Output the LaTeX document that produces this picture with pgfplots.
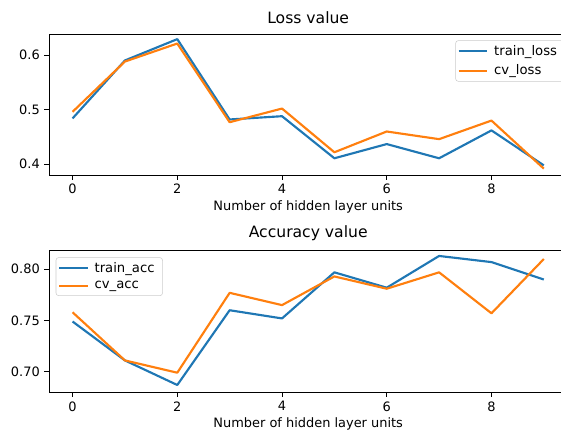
\documentclass[border=0pt]{standalone}
\usepackage{pgfplots}
\pgfplotsset{compat=1.18}
\usepackage{fontspec}
\setmainfont{DejaVu Sans}
\definecolor{c0}{HTML}{1F77B4}
\definecolor{c1}{HTML}{FF7F0E}
\begin{document}
\begin{tikzpicture}
\path[use as bounding box, clip] (0,0) rectangle (420.75pt,322.5pt);
\pgfplotsset{
  myaxis/.style={
    scale only axis,
    width=388.8pt,
    xmin=-0.45, xmax=9.45,
    xtick={0,2,4,6,8},
    tick align=outside,
    tick pos=left,
    major tick length=3.4pt,
    every tick/.style={black, line width=0.6pt},
    axis line style={line width=0.75pt},
    font=\fontsize{9.7}{11.6}\selectfont,
    tick label style={font=\fontsize{9.7}{11.6}\selectfont},
    /pgf/number format/assume math mode=true,
    xlabel={Number of hidden layer units},
    xlabel style={font=\fontsize{9.7}{11.6}\selectfont, yshift=2pt},
    title style={font=\fontsize{11.7}{14}\selectfont, yshift=-2pt},
    legend cell align=left,
    legend style={draw=black!20, rounded corners=2pt, fill=white, fill opacity=0.8, text opacity=1, draw opacity=1,
      font=\fontsize{9.9}{11.8}\selectfont, inner xsep=1.5pt, inner ysep=2.5pt, row sep=3.5pt,
      nodes={inner xsep=4.5pt, inner ysep=1pt}},
    legend image code/.code={\draw[#1, line width=1.6pt] (-0.05cm,0cm) -- (0.7cm,0cm);},
    every axis plot/.append style={line width=1.6pt, line join=round},
  }
}
\begin{axis}[myaxis,
  at={(36.75pt,191.25pt)}, anchor=south west,
  height=105.75pt,
  ymin=0.3804, ymax=0.6384,
  ytick={0.4,0.5,0.6},
  yticklabel style={/pgf/number format/.cd, fixed, fixed zerofill, precision=1},
  title={Loss value},
  legend style={at={(0.996,0.955)}, anchor=north east},
]
\addplot[c0] coordinates {(0,0.484) (1,0.590) (2,0.629) (3,0.482) (4,0.488) (5,0.411) (6,0.437) (7,0.411) (8,0.462) (9,0.398)};
\addlegendentry{train\_loss}
\addplot[c1] coordinates {(0,0.496) (1,0.588) (2,0.621) (3,0.477) (4,0.502) (5,0.422) (6,0.460) (7,0.446) (8,0.480) (9,0.392)};
\addlegendentry{cv\_loss}
\end{axis}
\begin{axis}[myaxis,
  at={(36.75pt,28.3pt)}, anchor=south west,
  height=106pt,
  ymin=0.6799, ymax=0.8179,
  ytick={0.70,0.75,0.80},
  yticklabel style={/pgf/number format/.cd, fixed, fixed zerofill, precision=2},
  title={Accuracy value},
  legend style={at={(0.013,0.955)}, anchor=north west},
]
\addplot[c0] coordinates {(0,0.749) (1,0.711) (2,0.687) (3,0.760) (4,0.752) (5,0.797) (6,0.782) (7,0.813) (8,0.807) (9,0.790)};
\addlegendentry{train\_acc}
\addplot[c1] coordinates {(0,0.758) (1,0.711) (2,0.699) (3,0.777) (4,0.765) (5,0.793) (6,0.781) (7,0.797) (8,0.757) (9,0.810)};
\addlegendentry{cv\_acc}
\end{axis}
\end{tikzpicture}
\end{document}
